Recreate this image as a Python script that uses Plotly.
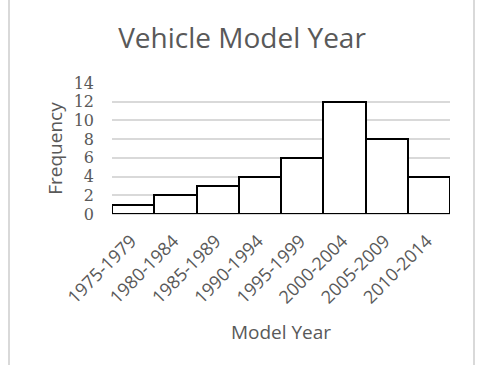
import plotly.graph_objects as go

categories = ["1975-1979", "1980-1984", "1985-1989", "1990-1994",
              "1995-1999", "2000-2004", "2005-2009", "2010-2014"]
frequency = [1, 2, 3, 4, 6, 12, 8, 4]
y_ticks = [0, 2, 4, 6, 8, 10, 12, 14]

FONT = "Open Sans"
GRAY = "#595959"

fig = go.Figure(go.Bar(
    x=categories, y=frequency,
    marker=dict(color="white", line=dict(color="black", width=2)),
    hoverinfo="skip",
))

fig.update_layout(
    width=484, height=365,
    margin=dict(l=112, r=34, t=83, b=151),
    paper_bgcolor="white", plot_bgcolor="white",
    bargap=0,
    showlegend=False,
    title=dict(text="Vehicle Model Year", x=0.5, xanchor="center",
               y=1 - 38 / 365, yanchor="middle",
               font=dict(family=FONT, size=28, color=GRAY)),
    xaxis=dict(tickangle=-45, tickfont=dict(family=FONT, size=18, color=GRAY),
               title=dict(text="Model Year", font=dict(family=FONT, size=19, color=GRAY), standoff=18),
               showgrid=False, showline=False, ticks="",
               ticklabelstandoff=12, ticklabelshift=-2),
    yaxis=dict(range=[0, 14], tickvals=y_ticks,
               tickfont=dict(family="DejaVu Serif", size=16, color=GRAY),
               title=dict(text="Frequency", font=dict(family=FONT, size=19, color=GRAY), standoff=5),
               showgrid=True, gridcolor="#d9d9d9", gridwidth=1.5,
               zeroline=True, zerolinecolor="#d9d9d9", zerolinewidth=1.5,
               showline=False, ticks="", ticklabelstandoff=17),
    font=dict(family=FONT, color=GRAY),
)

for xp in [(9 - 112) / 338, (474 - 112) / 338]:
    fig.add_shape(type="line", xref="paper", yref="paper",
                  x0=xp, x1=xp, y0=-1.2, y1=1.7,
                  line=dict(color="#d9d9d9", width=2), layer="above")

fig.write_html("out.html", config={"displayModeBar": False},
               post_script="document.body.style.margin='0';")
